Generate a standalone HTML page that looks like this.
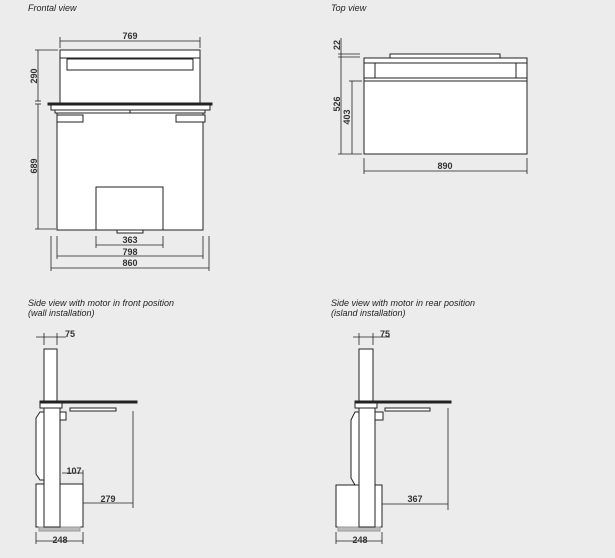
<!DOCTYPE html>
<html><head><style>
html,body{margin:0;padding:0;background:#ececec;}
svg{display:block;}
text{font-family:"Liberation Sans",sans-serif;fill:#222;}
.t{font-style:italic;font-size:9px;}
.d{font-size:9px;font-weight:bold;fill:#333;}
</style></head><body>
<svg width="615" height="558" viewBox="0 0 615 558" xmlns="http://www.w3.org/2000/svg">
<rect width="615" height="558" fill="#ececec"/>
<g fill="#fff" stroke="#222" stroke-width="1">
<!-- Frontal -->
<rect x="60" y="50" width="140" height="53"/>
<line x1="60" y1="58" x2="200" y2="58"/>
<rect x="67" y="59" width="126" height="11"/>
<rect x="48" y="103" width="164" height="2" fill="#222"/>
<rect x="51" y="105" width="159" height="5"/>
<rect x="55" y="110" width="150" height="3"/>
<line x1="130" y1="110" x2="130" y2="113"/>
<rect x="57" y="113" width="146" height="117"/>
<rect x="57" y="115" width="26" height="7"/>
<rect x="176" y="115" width="29" height="7"/>
<rect x="96" y="187" width="67" height="43"/>
<rect x="117" y="230" width="26" height="3"/>
<!-- Top -->
<rect x="390" y="54" width="110" height="4"/>
<rect x="364" y="58" width="163" height="5"/>
<rect x="364" y="63" width="163" height="15"/>
<line x1="375" y1="63" x2="375" y2="78"/><line x1="516" y1="63" x2="516" y2="78"/>
<rect x="364" y="78" width="163" height="3"/>
<rect x="364" y="81" width="163" height="73"/>
<!-- Side wall -->
<rect x="36" y="484" width="47" height="43"/>
<rect x="39" y="527" width="41" height="4" fill="#bbb" stroke="#999"/>
<polygon points="40,412 44,412 44,480 40,480 36,474 36,418"/>
<rect x="44" y="349" width="13" height="52"/>
<rect x="44" y="403" width="16" height="124"/>
<rect x="40" y="401" width="97" height="2" fill="#222"/>
<rect x="40" y="403" width="22" height="5"/>
<rect x="70" y="408" width="46" height="3"/>
<rect x="60" y="412" width="6" height="8"/>
<line x1="60" y1="420" x2="60" y2="484"/>
<!-- Side rear -->
<rect x="336" y="485" width="46" height="42"/>
<rect x="338" y="527" width="42" height="4" fill="#bbb" stroke="#999"/>
<polygon points="355,412 359,412 359,485 355,485 351,478 351,420"/>
<rect x="359" y="349" width="14" height="52"/>
<rect x="359" y="403" width="16" height="124"/>
<rect x="355" y="401" width="96" height="2" fill="#222"/>
<rect x="355" y="403" width="22" height="5"/>
<rect x="385" y="408" width="45" height="3"/>
<rect x="375" y="412" width="8" height="8"/>
</g>
<g stroke="#222" stroke-width="0.8" fill="none">
<!-- frontal dims -->
<line x1="60" y1="41" x2="200" y2="41"/><line x1="60" y1="37" x2="60" y2="48"/><line x1="200" y1="37" x2="200" y2="48"/>
<line x1="38" y1="50" x2="38" y2="101"/><line x1="35" y1="50" x2="58" y2="50"/>
<line x1="38" y1="104" x2="38" y2="229"/><line x1="35" y1="229" x2="56" y2="229"/>
<line x1="35" y1="101" x2="41" y2="101"/><line x1="35" y1="104" x2="41" y2="104"/>
<line x1="96" y1="245" x2="163" y2="245"/><line x1="96" y1="236" x2="96" y2="248"/><line x1="163" y1="236" x2="163" y2="248"/>
<line x1="57" y1="256" x2="203" y2="256"/><line x1="57" y1="236" x2="57" y2="259"/><line x1="203" y1="236" x2="203" y2="259"/>
<line x1="51" y1="268" x2="209" y2="268"/><line x1="51" y1="236" x2="51" y2="271"/><line x1="209" y1="236" x2="209" y2="271"/>
<!-- top dims -->
<line x1="341" y1="38" x2="341" y2="154"/><line x1="338" y1="54" x2="360" y2="54"/><line x1="338" y1="57" x2="360" y2="57"/>
<line x1="338" y1="154" x2="362" y2="154"/>
<line x1="352" y1="81" x2="352" y2="154"/><line x1="349" y1="81" x2="362" y2="81"/>
<line x1="364" y1="171" x2="527" y2="171"/><line x1="364" y1="158" x2="364" y2="174"/><line x1="527" y1="158" x2="527" y2="174"/>
<!-- side wall dims -->
<line x1="36" y1="337" x2="66" y2="337"/><line x1="44" y1="333" x2="44" y2="345"/><line x1="57" y1="333" x2="57" y2="345"/>
<line x1="62" y1="473" x2="83" y2="473"/><line x1="83" y1="470" x2="83" y2="484"/>
<line x1="83" y1="503" x2="133" y2="503"/><line x1="133" y1="411" x2="133" y2="508"/>
<line x1="36" y1="541" x2="83" y2="541"/><line x1="36" y1="532" x2="36" y2="544"/><line x1="83" y1="532" x2="83" y2="544"/>
<!-- side rear dims -->
<line x1="353" y1="337" x2="390" y2="337"/><line x1="359" y1="333" x2="359" y2="345"/><line x1="373" y1="333" x2="373" y2="345"/>
<line x1="382" y1="504" x2="448" y2="504"/><line x1="448" y1="408" x2="448" y2="510"/>
<line x1="336" y1="541" x2="382" y2="541"/><line x1="336" y1="532" x2="336" y2="544"/><line x1="382" y1="532" x2="382" y2="544"/>
</g>
<text class="t" x="28" y="11">Frontal view</text>
<text class="t" x="331" y="11">Top view</text>
<text class="t" x="28" y="306">Side view with motor in front position</text>
<text class="t" x="28" y="316">(wall installation)</text>
<text class="t" x="331" y="306">Side view with motor in rear position</text>
<text class="t" x="331" y="316"> (island installation)</text>
<g class="d" text-anchor="middle">
<text class="d" x="130" y="39">769</text>
<text class="d" transform="translate(37,76) rotate(-90)">290</text>
<text class="d" transform="translate(37,166) rotate(-90)">689</text>
<text class="d" x="130" y="243">363</text>
<text class="d" x="130" y="255">798</text>
<text class="d" x="130" y="266">860</text>
<text class="d" transform="translate(340,45) rotate(-90)">22</text>
<text class="d" transform="translate(340,104) rotate(-90)">526</text>
<text class="d" transform="translate(350,117) rotate(-90)">403</text>
<text class="d" x="445" y="169">890</text>
<text class="d" x="70" y="337">75</text>
<text class="d" x="74" y="474">107</text>
<text class="d" x="108" y="502">279</text>
<text class="d" x="60" y="543">248</text>
<text class="d" x="385" y="337">75</text>
<text class="d" x="415" y="502">367</text>
<text class="d" x="360" y="543">248</text>
</g>
</svg>
</body></html>
